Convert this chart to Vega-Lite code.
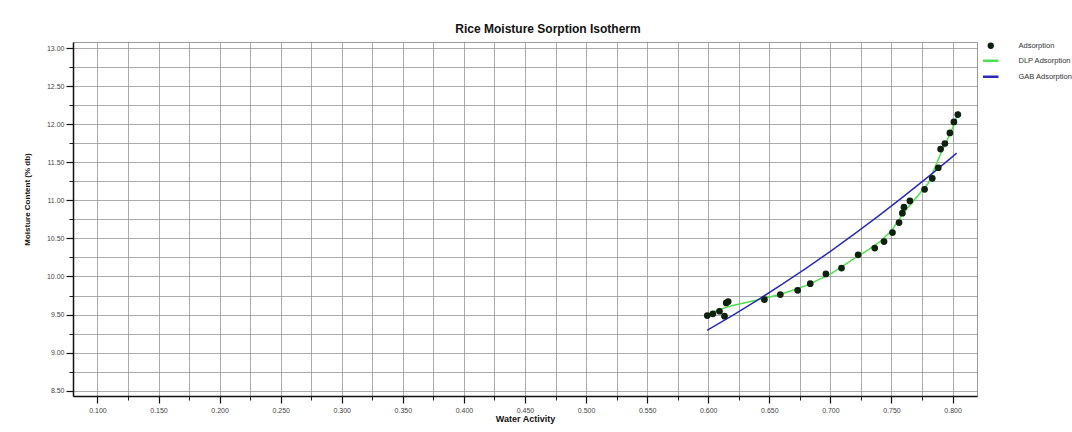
{
  "$schema": "https://vega.github.io/schema/vega-lite/v6.json",
  "autosize": {"type": "none"},
  "width": 904,
  "height": 354,
  "padding": {"left": 73, "top": 42, "right": 95, "bottom": 36},
  "background": "white",
  "config": {
    "font": "Liberation Sans",
    "view": {"stroke": "#9a9a9a", "strokeWidth": 1},
    "axis": {"labelFont": "Liberation Sans", "titleFont": "Liberation Sans"}
  },
  "title": {
    "text": "Rice Moisture Sorption Isotherm",
    "fontSize": 12,
    "fontWeight": "bold",
    "color": "#111111",
    "offset": 6,
    "dx": 23,
    "anchor": "middle"
  },
  "data": {
    "values": [
      {"aw": 0.5992, "mc": 9.487, "series": "Adsorption"},
      {"aw": 0.6038, "mc": 9.509, "series": "Adsorption"},
      {"aw": 0.6092, "mc": 9.543, "series": "Adsorption"},
      {"aw": 0.6147, "mc": 9.653, "series": "Adsorption"},
      {"aw": 0.6163, "mc": 9.670, "series": "Adsorption"},
      {"aw": 0.6133, "mc": 9.478, "series": "Adsorption"},
      {"aw": 0.6460, "mc": 9.696, "series": "Adsorption"},
      {"aw": 0.6590, "mc": 9.762, "series": "Adsorption"},
      {"aw": 0.6732, "mc": 9.818, "series": "Adsorption"},
      {"aw": 0.6835, "mc": 9.906, "series": "Adsorption"},
      {"aw": 0.6963, "mc": 10.033, "series": "Adsorption"},
      {"aw": 0.7091, "mc": 10.111, "series": "Adsorption"},
      {"aw": 0.7227, "mc": 10.285, "series": "Adsorption"},
      {"aw": 0.7363, "mc": 10.373, "series": "Adsorption"},
      {"aw": 0.7439, "mc": 10.459, "series": "Adsorption"},
      {"aw": 0.7508, "mc": 10.577, "series": "Adsorption"},
      {"aw": 0.7562, "mc": 10.708, "series": "Adsorption"},
      {"aw": 0.7589, "mc": 10.831, "series": "Adsorption"},
      {"aw": 0.7602, "mc": 10.910, "series": "Adsorption"},
      {"aw": 0.7651, "mc": 10.992, "series": "Adsorption"},
      {"aw": 0.7771, "mc": 11.145, "series": "Adsorption"},
      {"aw": 0.7834, "mc": 11.289, "series": "Adsorption"},
      {"aw": 0.7883, "mc": 11.428, "series": "Adsorption"},
      {"aw": 0.7902, "mc": 11.673, "series": "Adsorption"},
      {"aw": 0.7937, "mc": 11.747, "series": "Adsorption"},
      {"aw": 0.7978, "mc": 11.886, "series": "Adsorption"},
      {"aw": 0.8011, "mc": 12.030, "series": "Adsorption"},
      {"aw": 0.8043, "mc": 12.127, "series": "Adsorption"},
      {"aw": 0.599, "mc": 9.50, "series": "DLP Adsorption"},
      {"aw": 0.61, "mc": 9.57, "series": "DLP Adsorption"},
      {"aw": 0.62, "mc": 9.62, "series": "DLP Adsorption"},
      {"aw": 0.64, "mc": 9.69, "series": "DLP Adsorption"},
      {"aw": 0.66, "mc": 9.77, "series": "DLP Adsorption"},
      {"aw": 0.68, "mc": 9.88, "series": "DLP Adsorption"},
      {"aw": 0.70, "mc": 10.03, "series": "DLP Adsorption"},
      {"aw": 0.72, "mc": 10.24, "series": "DLP Adsorption"},
      {"aw": 0.73, "mc": 10.34, "series": "DLP Adsorption"},
      {"aw": 0.74, "mc": 10.45, "series": "DLP Adsorption"},
      {"aw": 0.75, "mc": 10.60, "series": "DLP Adsorption"},
      {"aw": 0.76, "mc": 10.84, "series": "DLP Adsorption"},
      {"aw": 0.77, "mc": 11.03, "series": "DLP Adsorption"},
      {"aw": 0.78, "mc": 11.22, "series": "DLP Adsorption"},
      {"aw": 0.79, "mc": 11.60, "series": "DLP Adsorption"},
      {"aw": 0.795, "mc": 11.77, "series": "DLP Adsorption"},
      {"aw": 0.80, "mc": 11.95, "series": "DLP Adsorption"},
      {"aw": 0.805, "mc": 12.17, "series": "DLP Adsorption"},
      {"aw": 0.599, "mc": 9.291, "series": "GAB Adsorption"},
      {"aw": 0.62, "mc": 9.489, "series": "GAB Adsorption"},
      {"aw": 0.64, "mc": 9.686, "series": "GAB Adsorption"},
      {"aw": 0.66, "mc": 9.892, "series": "GAB Adsorption"},
      {"aw": 0.68, "mc": 10.107, "series": "GAB Adsorption"},
      {"aw": 0.70, "mc": 10.330, "series": "GAB Adsorption"},
      {"aw": 0.72, "mc": 10.562, "series": "GAB Adsorption"},
      {"aw": 0.74, "mc": 10.802, "series": "GAB Adsorption"},
      {"aw": 0.76, "mc": 11.051, "series": "GAB Adsorption"},
      {"aw": 0.78, "mc": 11.309, "series": "GAB Adsorption"},
      {"aw": 0.80, "mc": 11.575, "series": "GAB Adsorption"},
      {"aw": 0.8033, "mc": 11.620, "series": "GAB Adsorption"}
    ]
  },
  "resolve": {"axis": {"x": "independent", "y": "independent"}},
  "layer": [
    {
      "transform": [{"filter": "datum.series !== 'Adsorption'"}],
      "mark": {"type": "line", "strokeWidth": 1.5},
      "encoding": {
        "x": {
          "field": "aw", "type": "quantitative",
          "scale": {"domain": [0.08, 0.82], "nice": false, "zero": false},
          "axis": {
            "orient": "bottom",
            "values": [0.1, 0.125, 0.15, 0.175, 0.2, 0.225, 0.25, 0.275, 0.3, 0.325, 0.35, 0.375, 0.4, 0.425, 0.45, 0.475, 0.5, 0.525, 0.55, 0.575, 0.6, 0.625, 0.65, 0.675, 0.7, 0.725, 0.75, 0.775, 0.8],
            "grid": true, "gridColor": "#8f8f8f", "gridWidth": 1, "gridOpacity": 0.75,
            "labels": false, "ticks": true, "tickSize": 4, "tickColor": "#222222",
            "domain": false, "title": null
          }
        },
        "y": {
          "field": "mc", "type": "quantitative",
          "scale": {"domain": [8.43, 13.08], "nice": false, "zero": false},
          "axis": {
            "orient": "left",
            "values": [8.5, 8.75, 9.0, 9.25, 9.5, 9.75, 10.0, 10.25, 10.5, 10.75, 11.0, 11.25, 11.5, 11.75, 12.0, 12.25, 12.5, 12.75, 13.0],
            "grid": true, "gridColor": "#8f8f8f", "gridWidth": 1, "gridOpacity": 0.75,
            "labels": false, "ticks": true, "tickSize": 4, "tickColor": "#222222",
            "domain": false, "title": null
          }
        },
        "color": {
          "field": "series", "type": "nominal",
          "scale": {"domain": ["Adsorption", "DLP Adsorption", "GAB Adsorption"], "range": ["#0e200e", "#4fe04f", "#2a2ab4"]},
          "legend": {
            "title": null,
            "orient": "right",
            "offset": 10,
            "labelFontSize": 7.5,
            "labelColor": "#333333",
            "rowPadding": 5,
            "labelOffset": 24,
            "values": ["Adsorption", "DLP Adsorption", "GAB Adsorption"],
            "encode": {
              "symbols": {
                "update": {
                  "shape": {"signal": "datum.value === 'Adsorption' ? 'circle' : 'stroke'"},
                  "fill": {"signal": "datum.value === 'Adsorption' ? '#0e200e' : 'transparent'"},
                  "stroke": {"signal": "scale('color', datum.value)"},
                  "strokeWidth": {"signal": "datum.value === 'Adsorption' ? 0 : 2.5"},
                  "size": {"signal": "datum.value === 'Adsorption' ? 40 : 240"}
                }
              }
            }
          }
        }
      }
    },
    {
      "transform": [{"filter": "datum.series === 'Adsorption'"}],
      "mark": {"type": "point", "filled": true, "size": 45, "opacity": 1},
      "encoding": {
        "x": {
          "field": "aw", "type": "quantitative",
          "axis": {
            "orient": "bottom",
            "values": [0.1, 0.15, 0.2, 0.25, 0.3, 0.35, 0.4, 0.45, 0.5, 0.55, 0.6, 0.65, 0.7, 0.75, 0.8],
            "format": ".3f", "grid": false,
            "domain": true, "domainColor": "#111111", "domainWidth": 1.5,
            "tickSize": 7, "tickColor": "#111111", "tickWidth": 1.2,
            "labelFontSize": 7, "labelColor": "#444444", "labelPadding": 3,
            "title": "Water Activity", "titleFontSize": 9, "titleFontWeight": "bold",
            "titleColor": "#111111", "titlePadding": 1
          }
        },
        "y": {
          "field": "mc", "type": "quantitative",
          "axis": {
            "orient": "left",
            "values": [8.5, 9.0, 9.5, 10.0, 10.5, 11.0, 11.5, 12.0, 12.5, 13.0],
            "format": ".2f", "grid": false,
            "domain": true, "domainColor": "#111111", "domainWidth": 1.5,
            "tickSize": 7, "tickColor": "#111111", "tickWidth": 1.2,
            "labelFontSize": 7, "labelColor": "#444444", "labelPadding": 2,
            "title": "Moisture Content (% db)", "titleFontSize": 8, "titleFontWeight": "bold",
            "titleColor": "#111111", "titlePadding": 15, "titleY": 157
          }
        },
        "color": {
          "field": "series", "type": "nominal",
          "legend": {
            "title": null,
            "orient": "right",
            "offset": 10,
            "labelFontSize": 7.5,
            "labelColor": "#333333",
            "rowPadding": 5,
            "labelOffset": 24,
            "values": ["Adsorption", "DLP Adsorption", "GAB Adsorption"],
            "encode": {
              "symbols": {
                "update": {
                  "shape": {"signal": "datum.value === 'Adsorption' ? 'circle' : 'stroke'"},
                  "fill": {"signal": "datum.value === 'Adsorption' ? '#0e200e' : 'transparent'"},
                  "stroke": {"signal": "scale('color', datum.value)"},
                  "strokeWidth": {"signal": "datum.value === 'Adsorption' ? 0 : 2.5"},
                  "size": {"signal": "datum.value === 'Adsorption' ? 40 : 240"}
                }
              }
            }
          }
        }
      }
    }
  ]
}
